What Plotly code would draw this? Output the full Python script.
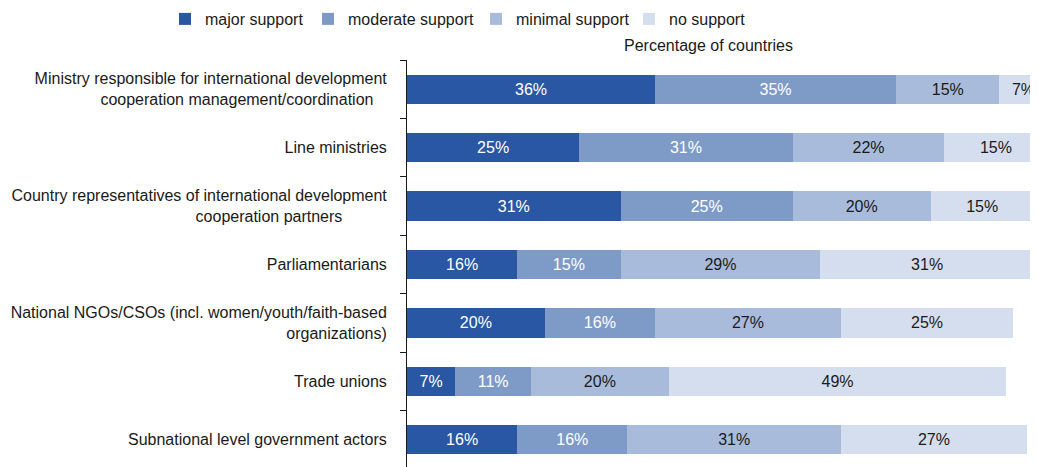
import plotly.graph_objects as go

NB = "\u00a0"
categories = [
    "Ministry responsible for international development<br>cooperation management/coordination" + NB * 3,
    "Line ministries",
    "Country representatives of international development<br>cooperation partners" + NB * 10,
    "Parliamentarians",
    "National NGOs/CSOs (incl. women/youth/faith-based<br>organizations)",
    "Trade unions",
    "Subnational level government actors",
]
major_support = [36, 25, 31, 16, 20, 7, 16]
moderate_support = [35, 31, 25, 15, 16, 11, 16]
minimal_support = [15, 22, 20, 29, 27, 20, 31]
no_support = [7, 15, 15, 31, 25, 49, 27]

series_names = ["major support", "moderate support", "minimal support", "no support"]
series_values = [major_support, moderate_support, minimal_support, no_support]
series_colors = ["#2957A4", "#7E9BC8", "#A9BBDB", "#D5DEEE"]
text_colors = ["#FFFFFF", "#FFFFFF", "#1A1A1A", "#1A1A1A"]
legend_ids = ["legend", "legend2", "legend3", "legend4"]

FONT = "Liberation Sans, Arial, sans-serif"
OFF = 8                      # page body margin offset
W, H = 1038 - OFF, 467 - OFF
legend_item_px = [165, 308, 476, 629]   # window px of legend item start

fig = go.Figure()
for name, vals, col, tcol, lid in zip(series_names, series_values, series_colors, text_colors, legend_ids):
    fig.add_trace(go.Bar(
        y=categories,
        x=vals,
        name=name,
        orientation="h",
        legend=lid,
        marker=dict(color=col, line=dict(width=0)),
        text=[f"{v}%" for v in vals],
        textposition="inside",
        insidetextanchor="middle",
        textangle=0,
        constraintext="none",
        textfont=dict(color=tcol, size=16, family=FONT),
        hoverinfo="skip",
    ))

legend_common = dict(
    orientation="h",
    xref="container", yref="container",
    xanchor="left", yanchor="middle",
    y=1 - (19 - OFF) / H,
    font=dict(size=16, family=FONT, color="#1A1A1A"),
    bgcolor="rgba(0,0,0,0)",
    borderwidth=0,
    itemclick=False,
    itemdoubleclick=False,
)

layout_legends = {}
for lid, xp in zip(legend_ids, legend_item_px):
    layout_legends[lid] = dict(legend_common, x=(xp - OFF) / W)

fig.update_layout(
    template="none",
    barmode="stack",
    bargap=0.5,
    width=W,
    height=H,
    margin=dict(l=407 - OFF, r=0, t=60 - OFF, b=0, pad=0, autoexpand=False),
    paper_bgcolor="white",
    plot_bgcolor="white",
    font=dict(family=FONT, size=16, color="#1A1A1A"),
    showlegend=True,
    xaxis=dict(
        range=[0, 91.6],
        showticklabels=False,
        showgrid=False,
        zeroline=False,
        showline=False,
        ticks="",
        automargin=False,
        fixedrange=True,
    ),
    yaxis=dict(
        type="category",
        range=[6.466, -0.5],
        showline=True,
        linecolor="#1A1A1A",
        linewidth=1,
        ticks="outside",
        tickson="boundaries",
        ticklen=6,
        tickwidth=1,
        tickcolor="#1A1A1A",
        ticklabelstandoff=16,
        showgrid=False,
        zeroline=False,
        automargin=False,
        tickfont=dict(size=16, family=FONT, color="#1A1A1A"),
        fixedrange=True,
    ),
    annotations=[
        dict(
            text="Percentage of countries",
            xref="paper", yref="paper",
            x=(708.5 - 407) / 631, y=(467 - 45.7) / 407,
            xanchor="center", yanchor="middle",
            showarrow=False,
            font=dict(size=16, family=FONT, color="#1A1A1A"),
        )
    ],
    **layout_legends,
)

fig.write_html("out.html")
